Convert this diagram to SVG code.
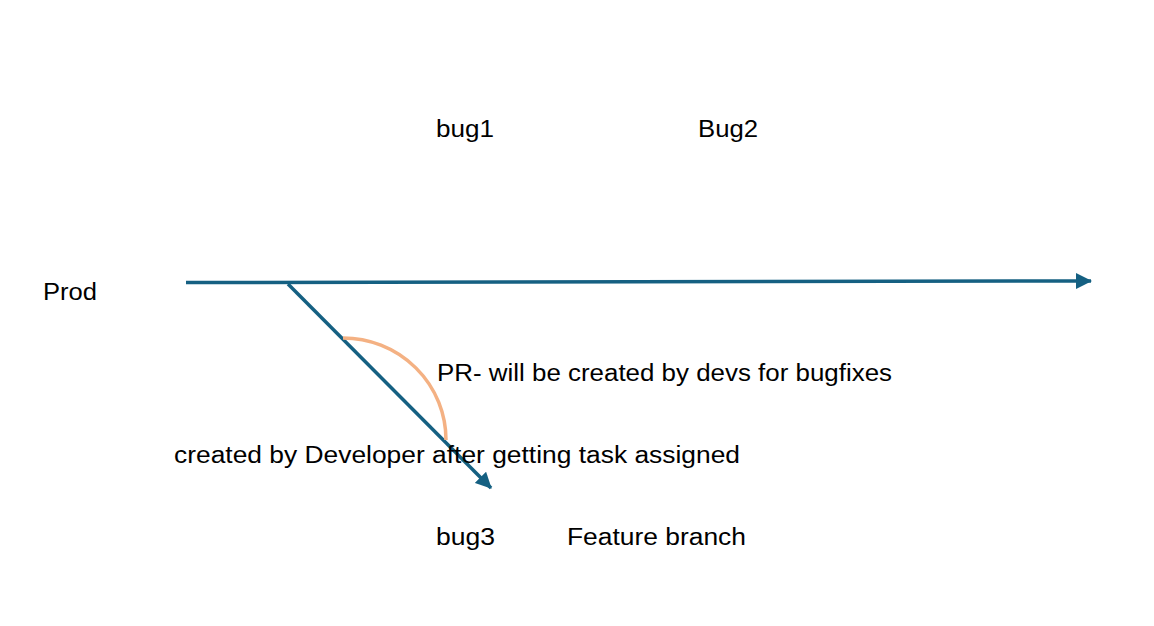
<svg xmlns="http://www.w3.org/2000/svg" width="1154" height="626" viewBox="0 0 1154 626">
<style>
text{font-family:"Liberation Sans",Arial,sans-serif;font-size:23px;fill:#000}
.ln{stroke:#156082;stroke-width:3.5;fill:none}
.arc{stroke:#F4B183;stroke-width:3.5;fill:none}
</style>
<defs>
<marker id="ah" markerWidth="17" markerHeight="16" refX="15" refY="8" orient="auto" markerUnits="userSpaceOnUse"><path d="M0,0 L16,8 L0,16 z" fill="#156082"/></marker>
</defs>
<rect width="1154" height="626" fill="#fff"/>
<g id="connectors">
<path class="ln" d="M186,282.5 L1091,281" marker-end="url(#ah)"/>
<path class="ln" d="M288,284 L491,488" marker-end="url(#ah)"/>
<path class="arc" d="M343,338 A103,102 0 0 1 446,440"/>
</g>
<g id="prod"><text x="43" y="300" textLength="54" lengthAdjust="spacingAndGlyphs">Prod</text></g>
<g id="bug1"><text x="436" y="137" textLength="58" lengthAdjust="spacingAndGlyphs">bug1</text></g>
<g id="bug2"><text x="698" y="137" textLength="60" lengthAdjust="spacingAndGlyphs">Bug2</text></g>
<g id="pr"><text x="437" y="381" textLength="455" lengthAdjust="spacingAndGlyphs">PR- will be created by devs for bugfixes</text></g>
<g id="created"><text x="174" y="463" textLength="566" lengthAdjust="spacingAndGlyphs">created by Developer after getting task assigned</text></g>
<g id="bug3"><text x="436" y="545" textLength="59" lengthAdjust="spacingAndGlyphs">bug3</text></g>
<g id="feature"><text x="567" y="545" textLength="179" lengthAdjust="spacingAndGlyphs">Feature branch</text></g>
</svg>
